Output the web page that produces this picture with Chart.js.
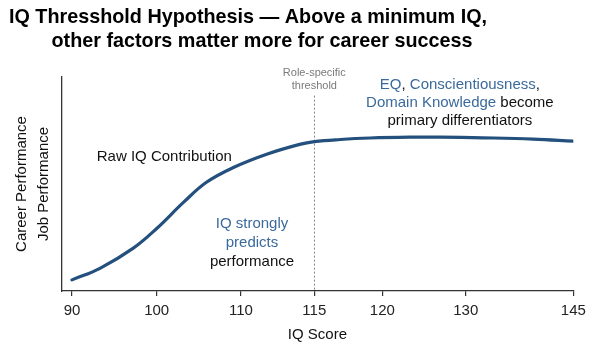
<!DOCTYPE html>
<html>
<head>
<meta charset="utf-8">
<script src="https://cdn.jsdelivr.net/npm/chart.js@4.4.1/dist/chart.umd.min.js"></script>
<style>
  html, body { margin: 0; padding: 0; background: #ffffff; }
  #wrap { width: 600px; height: 349px; }
</style>
</head>
<body>
<div id="wrap"><canvas id="c" width="600" height="349"></canvas></div>
<script>
// ---------------- DATA ----------------
const iqScores    = [90, 93.3, 97.2, 100.0, 103.2, 105.9, 109.1, 111.75, 114.0, 115.0, 116.9, 119.1, 123.3, 126.9, 132.4, 139.4, 145];
const performance = [5.2, 10.6, 19.9, 29.2, 41.5, 50.8, 57.7, 63.9, 68.5, 69.8, 70.8, 71.5, 71.9, 71.9, 71.6, 71.0, 70.0];
const xTickValues = [90, 100, 110, 115, 120, 130, 145];
const thresholdIQ = 115;

const titleLines  = ['IQ Thresshold Hypothesis \u2014 Above a minimum IQ,', 'other factors matter more for career success'];
const yTitleLines = ['Career Performance', 'Job Performance'];
const xTitle      = 'IQ Score';

// ---------------- LAYOUT / STYLE ----------------
// The reference axis is not evenly spaced: fraction of the plot width at which each tick value sits.
const xTickFractions = [0.0205, 0.186, 0.3507, 0.494, 0.6268, 0.7898, 1.0];
const FONT = "'Liberation Sans', Arial, Helvetica, sans-serif";
const LINE_COLOR = '#24507d';
const BLUE = '#3a6a9c';
const BLACK = '#111111';
const GREY = '#7a7a7a';

function warpFraction(v) {
  const k = xTickValues, f = xTickFractions;
  let i = 0;
  if (v >= k[k.length - 1]) i = k.length - 2;
  else if (v > k[0]) { while (v > k[i + 1]) i++; }
  return f[i] + (v - k[i]) / (k[i + 1] - k[i]) * (f[i + 1] - f[i]);
}
function unwarpFraction(d) {
  const k = xTickValues, f = xTickFractions;
  let i = 0;
  if (d >= f[f.length - 1]) i = f.length - 2;
  else if (d > f[0]) { while (d > f[i + 1]) i++; }
  return k[i] + (d - f[i]) / (f[i + 1] - f[i]) * (k[i + 1] - k[i]);
}

class WarpScale extends Chart.LinearScale {
  getPixelForValue(value) {
    if (value === null || value === undefined || isNaN(value)) return NaN;
    return this.getPixelForDecimal(warpFraction(value));
  }
  getValueForPixel(pixel) {
    return unwarpFraction(this.getDecimalForPixel(pixel));
  }
}
WarpScale.id = 'warp';
WarpScale.defaults = Chart.LinearScale.defaults;
Chart.register(WarpScale);

// annotation anchors (data coordinates)
const annotations = [
  { x: 100.9, y: 62.6, lh: 0, lines: [[['Raw IQ Contribution', BLACK]]], size: 15 },
  { x: 110.75, y: 31.2, lh: 19, size: 15, lines: [
      [['IQ strongly', BLUE]],
      [['predicts', BLUE]],
      [['performance', BLACK]]
  ]},
  { x: 129.3, y: 96.3, lh: 18, size: 15, lines: [
      [['EQ', BLUE], [', ', BLACK], ['Conscientiousness', BLUE], [',', BLACK]],
      [['Domain Knowledge', BLUE], [' become', BLACK]],
      [['primary differentiators', BLACK]]
  ]},
  { x: 115, y: 101.9, lh: 13, size: 11, lines: [
      [['Role-specific', GREY]],
      [['threshold', GREY]]
  ]}
];

const annotationPlugin = {
  id: 'annot',
  beforeDatasetsDraw(chart) {
    const { ctx, scales: { x, y } } = chart;
    const px = x.getPixelForValue(thresholdIQ);
    ctx.save();
    ctx.strokeStyle = '#8a8a8a';
    ctx.lineWidth = 1;
    ctx.setLineDash([2, 2]);
    ctx.beginPath();
    ctx.moveTo(Math.round(px) + 0.5, y.getPixelForValue(91.3));
    ctx.lineTo(Math.round(px) + 0.5, y.getPixelForValue(0));
    ctx.stroke();
    ctx.restore();
  },
  afterDraw(chart) {
    const { ctx, scales: { x, y } } = chart;
    ctx.save();
    ctx.textBaseline = 'middle';
    ctx.textAlign = 'left';
    annotations.forEach(a => {
      ctx.font = a.size + 'px ' + FONT;
      const cx = x.getPixelForValue(a.x);
      const cy0 = y.getPixelForValue(a.y);
      a.lines.forEach((segs, li) => {
        const total = segs.reduce((s, sg) => s + ctx.measureText(sg[0]).width, 0);
        let sx = cx - total / 2;
        const cy = cy0 + li * a.lh;
        segs.forEach(sg => {
          ctx.fillStyle = sg[1];
          ctx.fillText(sg[0], sx, cy);
          sx += ctx.measureText(sg[0]).width;
        });
      });
    });
    // title
    ctx.font = 'bold 19.8px ' + FONT;
    ctx.fillStyle = '#000000';
    ctx.textAlign = 'center';
    ctx.textBaseline = 'alphabetic';
    ctx.fillText(titleLines[0], 248, 23);
    ctx.fillText(titleLines[1], 262, 47);
    ctx.restore();
  }
};

Chart.defaults.font.family = FONT;

new Chart(document.getElementById('c'), {
  type: 'line',
  data: {
    datasets: [{
      data: iqScores.map((v, i) => ({ x: v, y: performance[i] })),
      borderColor: LINE_COLOR,
      borderWidth: 3.2,
      pointRadius: 0,
      fill: false,
      tension: 0.4,
      borderCapStyle: 'round'
    }]
  },
  options: {
    responsive: false,
    animation: false,
    layout: { padding: { top: 77, right: 26.7, bottom: 1, left: 8 } },
    plugins: { legend: { display: false }, tooltip: { enabled: false }, title: { display: false } },
    scales: {
      x: {
        type: 'warp',
        min: 88.7,
        max: 145,
        afterBuildTicks: s => { s.ticks = xTickValues.map(v => ({ value: v })); },
        grid: { display: true, drawOnChartArea: false, drawTicks: true, tickLength: 5, color: '#333333', lineWidth: 1.2 },
        border: { display: true, color: '#333333', width: 1.3 },
        ticks: { autoSkip: false, maxRotation: 0, padding: 6, color: '#222222', font: { size: 15 }, callback: v => String(v) },
        title: { display: true, text: xTitle, color: '#111111', font: { size: 15 }, padding: { top: 0, bottom: 4 } }
      },
      y: {
        min: 0,
        max: 100,
        grid: { display: false, drawTicks: false },
        border: { display: true, color: '#333333', width: 1.3 },
        ticks: { display: false },
        title: { display: true, text: yTitleLines, color: '#111111', font: { size: 15, lineHeight: 1.4667 }, padding: { top: 3, bottom: 6.5 } }
      }
    }
  },
  plugins: [annotationPlugin]
});
</script>
</body>
</html>
